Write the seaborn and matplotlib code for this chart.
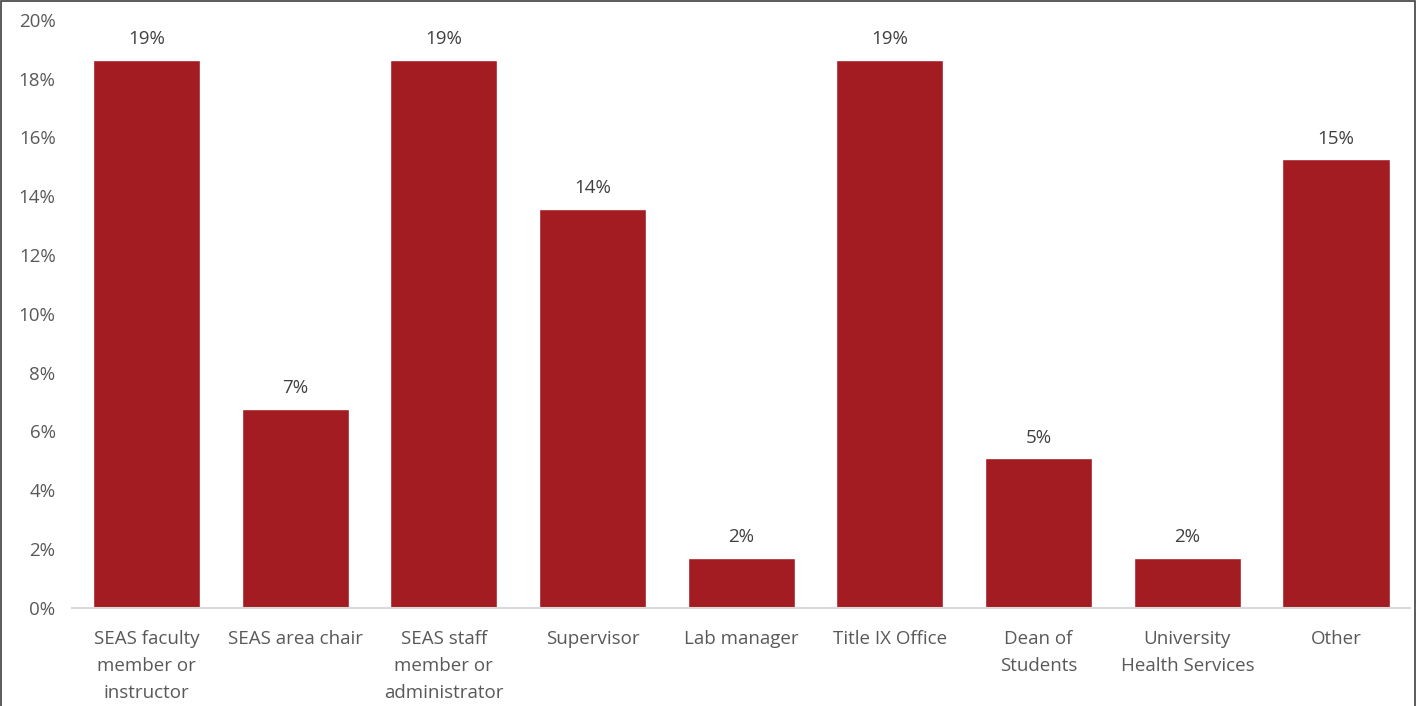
import matplotlib
matplotlib.use("Agg")
import matplotlib.pyplot as plt
import seaborn as sns
import pandas as pd
from matplotlib.ticker import PercentFormatter
from matplotlib.patches import Rectangle

categories = [
    "SEAS faculty\nmember or\ninstructor",
    "SEAS area chair",
    "SEAS staff\nmember or\nadministrator",
    "Supervisor",
    "Lab manager",
    "Title IX Office",
    "Dean of\nStudents",
    "University\nHealth Services",
    "Other",
]
shares = [18.64, 6.78, 18.64, 13.56, 1.69, 18.64, 5.08, 1.69, 15.25]
labels = ["19%", "7%", "19%", "14%", "2%", "19%", "5%", "2%", "15%"]

bar_color = "#A21C21"
text_color = "#595959"

sns.set_theme(style="white")
plt.rcParams["font.family"] = ["Open Sans", "DejaVu Sans"]

df = pd.DataFrame({"category": categories, "share": shares})

fig = plt.figure(figsize=(14.16, 7.06), dpi=100)
ax = fig.add_axes([0.051, 0.139, 0.945, 0.833])

sns.barplot(data=df, x="category", y="share", color=bar_color, saturation=1,
            width=0.72, ax=ax)

ax.set_xlim(-0.5, len(categories) - 0.5)
ax.set_ylim(0, 20)
ax.set_yticks(range(0, 21, 2))
ax.yaxis.set_major_formatter(PercentFormatter(decimals=0))
ax.set_xlabel("")
ax.set_ylabel("")

for i, (v, lab) in enumerate(zip(shares, labels)):
    ax.text(i, v + 0.4, lab, ha="center", va="bottom", fontsize=13.5, color="#404040")

for side in ["top", "right", "left"]:
    ax.spines[side].set_visible(False)
ax.spines["bottom"].set_color("#d9d9d9")
ax.spines["bottom"].set_linewidth(1.5)
ax.tick_params(axis="both", length=0, labelsize=13.5, colors=text_color)
ax.tick_params(axis="y", pad=12)
ax.tick_params(axis="x", pad=16)
for t in ax.get_xticklabels():
    t.set_linespacing(1.65)

# thin frame around the whole chart
fig.patches.append(Rectangle((0.001, -0.01), 0.998, 1.008, transform=fig.transFigure,
                             fill=False, edgecolor="#404040", linewidth=1.2))

fig.savefig("out.png", dpi=100)
